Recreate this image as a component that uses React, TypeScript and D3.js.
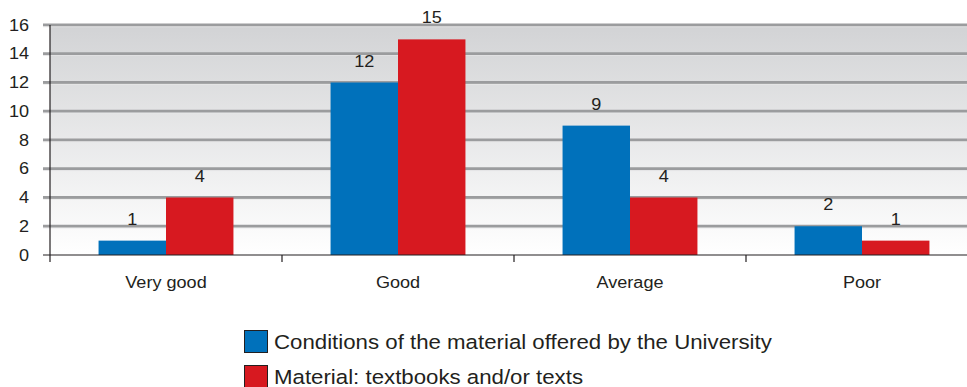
import React from "react";
import * as d3 from "d3";

const categories = ["Very good", "Good", "Average", "Poor"];
const seriesNames = [
  "Conditions of the material offered by the University",
  "Material: textbooks and/or texts",
];
const universityMaterial = [1, 12, 9, 2];
const textbooks = [4, 15, 4, 1];
const yTicks = [0, 2, 4, 6, 8, 10, 12, 14, 16];
const colors = ["#0071bb", "#d71920"];

const W = 967;
const H = 387;
const left = 50;
const top = 25;
const bottom = 255;
const plotRight = 978;
const font = "'Liberation Sans', Arial, sans-serif";
const SX = 1.13; // slightly wide lettering

type LabelProps = {
  x: number;
  y: number;
  size: number;
  anchor?: "start" | "middle" | "end";
  children: React.ReactNode;
};

function Label({ x, y, size, anchor = "start", children }: LabelProps) {
  return (
    <text
      transform={`translate(${x},${y}) scale(${SX},1)`}
      textAnchor={anchor}
      fontFamily={font}
      fontSize={size}
      fill="#231f20"
    >
      {children}
    </text>
  );
}

export default function App() {
  const series = [universityMaterial, textbooks];
  const x = d3.scaleBand<string>().domain(categories).range([left, plotRight]).padding(0);
  const inner = d3
    .scaleBand<number>()
    .domain([0, 1])
    .range([0, x.bandwidth()])
    .paddingOuter(0.72)
    .paddingInner(0);
  const y = d3.scaleLinear().domain([0, 16]).range([bottom, top]);

  return (
    <svg
      width={W}
      height={H}
      style={{ position: "absolute", left: 0, top: 0, display: "block", background: "#fff" }}
    >
      <defs>
        <linearGradient id="bg" x1="0" y1="0" x2="0" y2="1">
          <stop offset="0%" stopColor="#d2d3d5" />
          <stop offset="100%" stopColor="#ffffff" />
        </linearGradient>
      </defs>
      <rect x={left} y={y(16)} width={W - left} height={y(0) - y(16)} fill="url(#bg)" />
      {yTicks.map((t) => (
        <g key={t}>
          {t > 0 && (
            <>
              <line x1={43} x2={W} y1={y(t)} y2={y(t)} stroke="#9b9c9e" strokeWidth={3} />
              <line x1={43} x2={W} y1={y(t) + 1.8} y2={y(t) + 1.8} stroke="#e9e9ea" strokeWidth={0.8} />
            </>
          )}
          <Label x={29} y={y(t) + 5.5} size={16} anchor="end">
            {t}
          </Label>
        </g>
      ))}
      {categories.map((c, i) => (
        <g key={c}>
          {series.map((s, k) => {
            const bx = (x(c) as number) + (inner(k) as number);
            return (
              <g key={k}>
                <rect x={bx} y={y(s[i])} width={inner.bandwidth()} height={y(0) - y(s[i])} fill={colors[k]} />
                <Label x={bx + inner.bandwidth() / 2} y={y(s[i]) - 16} size={16} anchor="middle">
                  {s[i]}
                </Label>
              </g>
            );
          })}
          <Label x={(x(c) as number) + x.bandwidth() / 2} y={288} size={16} anchor="middle">
            {c}
          </Label>
        </g>
      ))}
      {/* axes */}
      <line x1={left} x2={left} y1={y(16)} y2={262} stroke="#231f20" strokeWidth={1.2} />
      <line x1={43} x2={W} y1={y(0)} y2={y(0)} stroke="#231f20" strokeWidth={1.2} />
      {categories.map((c) => (
        <line
          key={c}
          x1={(x(c) as number) + x.bandwidth()}
          x2={(x(c) as number) + x.bandwidth()}
          y1={y(0)}
          y2={262}
          stroke="#231f20"
          strokeWidth={1.2}
        />
      ))}
      {/* legend */}
      {seriesNames.map((n, k) => (
        <g key={n} transform={`translate(244, ${330 + k * 35})`}>
          <rect x={0.5} y={0.5} width={23} height={22} fill={colors[k]} stroke="#231f20" strokeWidth={1} />
          <Label x={30} y={18.5} size={19.7}>
            {n}
          </Label>
        </g>
      ))}
    </svg>
  );
}
